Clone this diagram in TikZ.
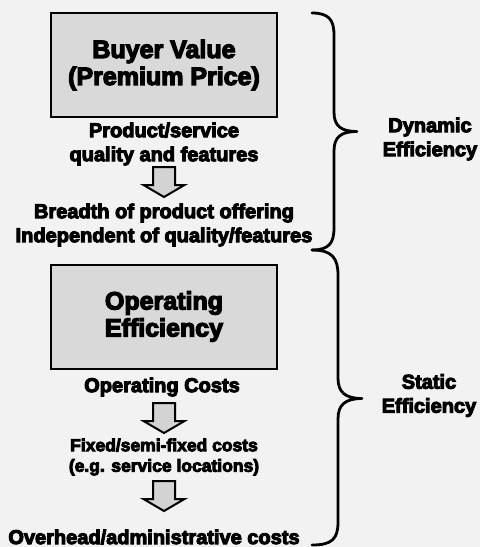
\documentclass[tikz,border=0pt]{standalone}
\usepackage{fontspec}
\setmainfont{Liberation Sans Bold}[FakeBold=5]
\definecolor{bgcol}{HTML}{F2F2F2}
\definecolor{boxgray}{HTML}{D9D9D9}
\definecolor{arrgray}{HTML}{D3D3D3}
\tikzset{
  box/.style={draw=black, line width=2pt, fill=boxgray, minimum width=226pt, minimum height=104pt,
    align=center, inner sep=0pt, font=\fontsize{25}{27}\selectfont},
  lbl/.style={align=center, inner sep=0pt, font=\fontsize{20}{24}\selectfont},
  lblsmall/.style={align=center, inner sep=0pt, font=\fontsize{17.5}{20.5}\selectfont},
  blockarrow/.style={draw=black, line width=2pt, fill=arrgray, line join=miter},
  bracestyle/.style={draw=black, line width=2.8pt, line cap=round, line join=round},
  dnarrow/.pic={\path[blockarrow] (-11,0) -- (11,0) -- (11,18) -- (20.5,18) -- (0,30) -- (-20.5,18) -- (-11,18) -- cycle;}
}
\begin{document}
\begin{tikzpicture}[x=1pt,y=-1pt]
\fill[bgcol] (0,0) rectangle (480,547);
\useasboundingbox (0,0) rectangle (480,547);

\node[box] (bv) at (164,65) {Buyer Value\\(Premium Price)};
\node[lbl] (pq) at (164,144) {Product/service\\quality and features};
\pic at (164,167) {dnarrow};
\node[lbl] (br) at (164,225) {Breadth of product offering\\Independent of quality/features};

\node[box] (oe) at (164,316.5) {Operating\\Efficiency};
\node[lbl] (oc) at (162,387) {Operating Costs};
\pic at (164,403) {dnarrow};
\node[lblsmall] (fx) at (164,457) {Fixed/semi-fixed costs\\(e.g. service locations)};
\pic at (164,481) {dnarrow};
\node[lbl] (oh) at (154,537) {Overhead/administrative costs};

\node[lbl] (de) at (430,139) {Dynamic\\Efficiency};
\node[lbl] (se) at (429,395.5) {Static\\Efficiency};

% upper brace
\path[bracestyle] (312,13) .. controls (329,13) and (334,20) .. (334,35) -- (334,112)
  .. controls (334,126) and (341,131.5) .. (357,131.5)
  .. controls (341,131.5) and (334,137) .. (334,151) -- (334,228)
  .. controls (334,243) and (329,250) .. (312,250);
% lower brace
\path[bracestyle] (312,250) .. controls (332,250) and (338,258) .. (338,275) -- (338,378)
  .. controls (338,392) and (345,398.5) .. (362,398.5)
  .. controls (345,398.5) and (338,405) .. (338,419) -- (338,522)
  .. controls (338,539) and (332,545) .. (312,545);
\end{tikzpicture}
\end{document}
